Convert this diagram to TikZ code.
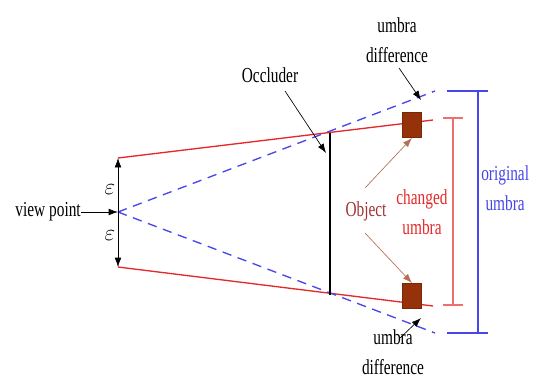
\documentclass[tikz,border=0pt]{standalone}
\usepackage{fontspec}
\setmainfont{Liberation Serif}[FakeStretch=0.72]
\usetikzlibrary{arrows.meta}
\definecolor{objc}{RGB}{150,50,10}
\definecolor{redl}{RGB}{230,40,40}
\definecolor{redb}{RGB}{240,110,110}
\definecolor{bluel}{RGB}{70,70,235}
\definecolor{objtxt}{RGB}{160,50,50}
\tikzset{
  lbl/.style={font=\fontsize{16}{22.5}\selectfont, inner sep=0pt, align=center},
  ray/.style={redl, line width=1pt},
  dray/.style={bluel, line width=1pt, dash pattern=on 7pt off 5pt},
  ptr/.style={-{Latex[length=7pt,width=5pt]}, line width=0.5pt},
  obj/.style={draw=objc!80!black, fill=objc, minimum width=14pt, minimum height=19pt, inner sep=0pt},
}
\begin{document}
\begin{tikzpicture}[x=0.75pt,y=-0.75pt]
\useasboundingbox (0,0) rectangle (533,380);
% key points
\coordinate (vp) at (118,212);
\coordinate (vt) at (118,158);
\coordinate (vb) at (118,267);
\coordinate (rt) at (433,120);
\coordinate (rb) at (433,306);
\coordinate (bt) at (435,91);
\coordinate (bb) at (435,333);
% rays
\draw[ray] (vt) -- (rt);
\draw[ray] (vb) -- (rb);
\draw[dray] (vp) -- (bt);
\draw[dray] (vp) -- (bb);
% epsilon arrows
\draw[ptr] (vp) -- (vt);
\draw[ptr] (vp) -- (vb);
\node[lbl] (e1) at (110,190) {$\varepsilon$};
\node[lbl] (e2) at (110,236) {$\varepsilon$};
% view point
\node[lbl, anchor=east] (vpl) at (81,212) {view point};
\draw[ptr] (vpl.east) -- (vp);
% occluder
\coordinate (oct) at (330,133);
\coordinate (ocb) at (330,295);
\draw[line width=1.8pt] (oct) -- (ocb);
\node[lbl] (occ) at (270,75) {Occluder};
\coordinate (occa) at (326,153);
\draw[ptr] (285,91) -- (occa);
% objects
\node[obj] (o1) at (412,125) {};
\node[obj] (o2) at (412,296) {};
% red bracket
\coordinate (cb1) at (453,118);
\coordinate (cb2) at (453,305);
\draw[redb, line width=1pt] (443,118) -- (463,118);
\draw[redb, line width=1pt] (443,305) -- (463,305);
\draw[redb, line width=1pt] (cb1) -- (cb2);
\node[lbl, text=redl] (chg) at (422,212) {changed\\umbra};
% blue bracket
\coordinate (ob1) at (478,91);
\coordinate (ob2) at (478,333);
\draw[bluel, line width=1pt] (447,91) -- (488,91);
\draw[bluel, line width=1pt] (447,333) -- (488,333);
\draw[bluel, line width=1pt] (ob1) -- (ob2);
\node[lbl, text=bluel, anchor=west] (org) at (481,188) {original\\umbra};
% object label
\node[lbl, text=objtxt] (objl) at (366,211) {Object};
\draw[ptr, objc!70!white] (365,188) -- (o1.south);
\draw[ptr, objc!70!white] (365,233) -- (o2.north);
% umbra difference
\node[lbl] (ud1) at (397,40) {umbra\\difference};
\draw[ptr] (399,68) -- (421,100);
\node[lbl] (ud2) at (393,352) {umbra\\difference};
\draw[ptr] (400,338) -- (421,318);
\end{tikzpicture}
\end{document}
